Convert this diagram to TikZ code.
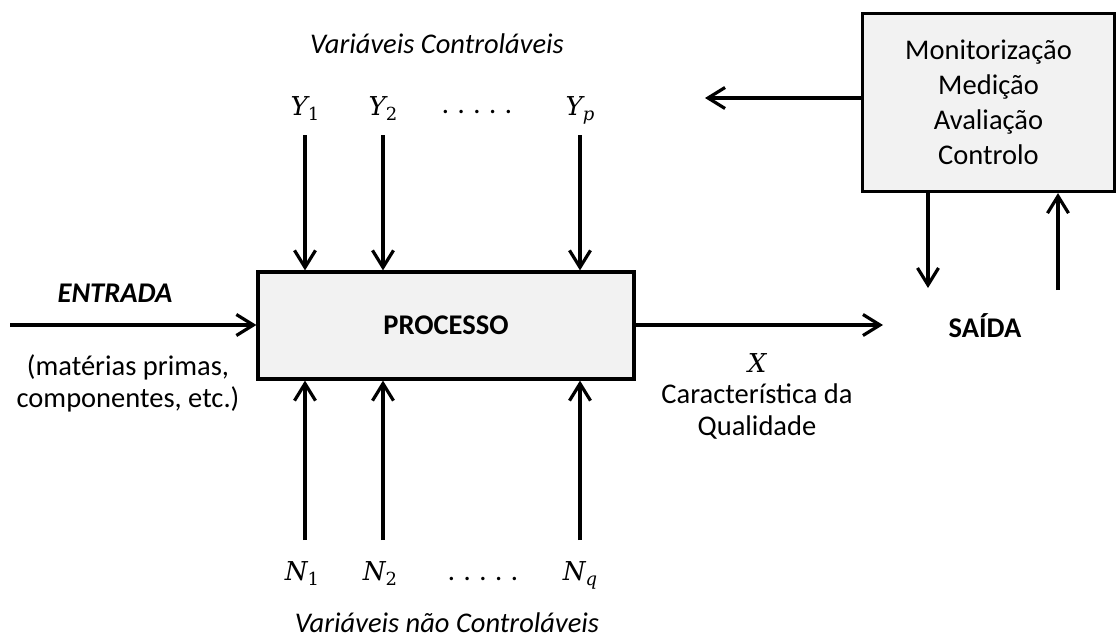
\documentclass[tikz,border=0pt]{standalone}
\usepackage{fontspec}
\setmainfont{Carlito}
\newfontfamily\mvf{DejaVu Serif}
\usetikzlibrary{arrows.meta}
\definecolor{boxgray}{HTML}{F2F2F2}
\newcommand\mvar[1]{{\mvf\fontsize{26}{30}\selectfont\itshape #1}}
\newcommand\msub[1]{\raisebox{-5pt}{\mvf\fontsize{18}{20}\selectfont #1}}
\begin{document}
\begin{tikzpicture}[x=1pt,y=-1pt,
  arr/.style={line width=3.2pt,-{Straight Barb[length=17pt,width=21pt,line width=3.2pt]}},
  box/.style={draw,line width=3.2pt,fill=boxgray,inner sep=0pt},
  lbl/.style={font=\fontsize{28.5}{35}\selectfont,inner sep=0pt},
  lbl2/.style={font=\fontsize{28.5}{32}\selectfont,inner sep=0pt,align=center},
]
\useasboundingbox (0,0) rectangle (1117,637);
% boxes
\node[box,lbl,minimum width=376pt,minimum height=107pt] (proc) at (446,325.5) {\bfseries PROCESSO};
\node[box,lbl,minimum width=252pt,minimum height=178pt,align=center] (mon) at (988.5,102.5)
  {Monitorização\\Medição\\Avaliação\\Controlo};
% top labels
\node[lbl,anchor=base] (vc) at (437,53) {\itshape Variáveis Controláveis};
\node[lbl,anchor=base] (y1) at (305,115) {\mvar{Y}\msub{1}};
\node[lbl,anchor=base] (y2) at (383,115) {\mvar{Y}\msub{2}};
\node[lbl,anchor=base] (ydots) at (477,113) {. . . . .};
\node[lbl,anchor=base] (yp) at (580,115) {\mvar{Y}\msub{\itshape p}};
\coordinate (y1s) at (305,135);
\coordinate (y2s) at (383,135);
\coordinate (yps) at (580,135);
% bottom labels
\node[lbl,anchor=base] (n1) at (302,580) {\mvar{N}\msub{1}};
\node[lbl,anchor=base] (n2) at (380,580) {\mvar{N}\msub{2}};
\node[lbl,anchor=base] (ndots) at (483,580) {. . . . .};
\node[lbl,anchor=base] (nq) at (580,580) {\mvar{N}\msub{\itshape q}};
\node[lbl,anchor=base] (vnc) at (447,632) {\itshape Variáveis não Controláveis};
\coordinate (n1s) at (305,540);
\coordinate (n2s) at (383,540);
\coordinate (nqs) at (580,540);
% input
\node[lbl,anchor=base] (ent) at (115,302) {\bfseries\itshape ENTRADA};
\node[lbl2] (mat) at (128,383) {(matérias primas,\\componentes, etc.)};
\coordinate (ins) at (10,325);
% output
\node[lbl,anchor=base] (said) at (985,337) {\bfseries SAÍDA};
\coordinate (oute) at (883,325);
\node[lbl,anchor=base] (xq) at (757,372) {\mvar{X}};
\node[lbl2] (cq) at (757,411) {Característica da\\Qualidade};
% feedback
\coordinate (fbl) at (705,98);
\coordinate (dn) at (928,288);
\coordinate (up) at (1058,290);
% arrows
\draw[arr] (y1s) -- (y1s |- proc.north);
\draw[arr] (y2s) -- (y2s |- proc.north);
\draw[arr] (yps) -- (yps |- proc.north);
\draw[arr] (n1s) -- (n1s |- proc.south);
\draw[arr] (n2s) -- (n2s |- proc.south);
\draw[arr] (nqs) -- (nqs |- proc.south);
\draw[arr] (ins) -- (ins -| proc.west);
\draw[arr] (proc.east |- oute) -- (oute);
\draw[arr] (fbl -| mon.west) -- (fbl);
\draw[arr] (dn |- mon.south) -- (dn);
\draw[arr] (up) -- (up |- mon.south);
\end{tikzpicture}
\end{document}
